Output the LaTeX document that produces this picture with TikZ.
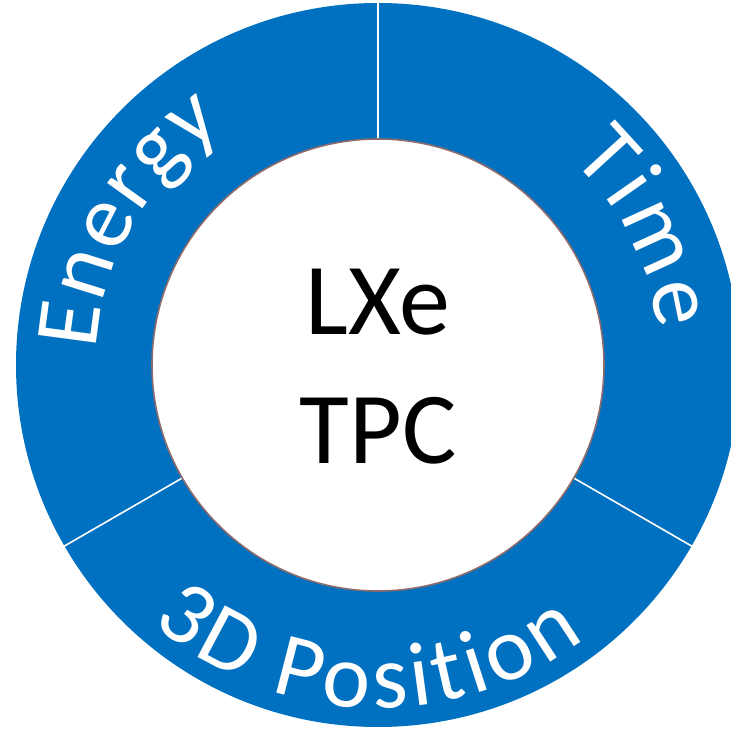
\documentclass[tikz,border=0pt]{standalone}
\usepackage{fontspec}
\setmainfont{Carlito}
\usetikzlibrary{calc,decorations.text}

\definecolor{ringblue}{HTML}{0070C0}
\definecolor{rimbrown}{HTML}{8E6B6B}

\newcommand{\ringfont}{\fontsize{91}{91}\selectfont}

\begin{document}
\begin{tikzpicture}[
  x=1pt,
  y=1pt,
  ring/.style={fill=ringblue},
  core/.style={fill=white,draw=rimbrown,line width=1.6pt},
  divider/.style={draw=white,line width=1.6pt},
  ringtext/.style 2 args={decorate,decoration={text effects along path,
                   text={#1},text align=center,
                   text effects/.cd,text along path,
                   characters={text=white,font=\ringfont,inner sep=0pt},
                   character widths={font=\ringfont,inner xsep=#2,inner ysep=0pt}}}
]
\useasboundingbox (0,0) rectangle (731,731);
\clip (0,0) rectangle (731,731);

% =====================================================================
% Ring and core
% =====================================================================
\coordinate (c) at (378,366);
\fill[ring] (c) circle[radius=362];

% three 120-degree sectors
\foreach \ang in {90,-30,210}{
  \draw[divider] ($(c)+(\ang:220)$) -- ($(c)+(\ang:364)$);
}

\draw[core] (c) circle[radius=226];

\node[font=\fontsize{102}{129}\selectfont,align=center] (lxe) at (378,364)
  {LXe\\TPC};

% =====================================================================
% Labels along the ring
% =====================================================================
\path[ringtext={Energy}{1.2pt}] (c) ++(212:282) arc[start angle=212,end angle=88,radius=282];
\path[ringtext={Time}{2.2pt}]   (c) ++(89:282)  arc[start angle=89,end angle=-35,radius=282];
\path[ringtext={3D Position}{2.4pt}] (c) ++(204:343) arc[start angle=204,end angle=332,radius=343];

\end{tikzpicture}
\end{document}
